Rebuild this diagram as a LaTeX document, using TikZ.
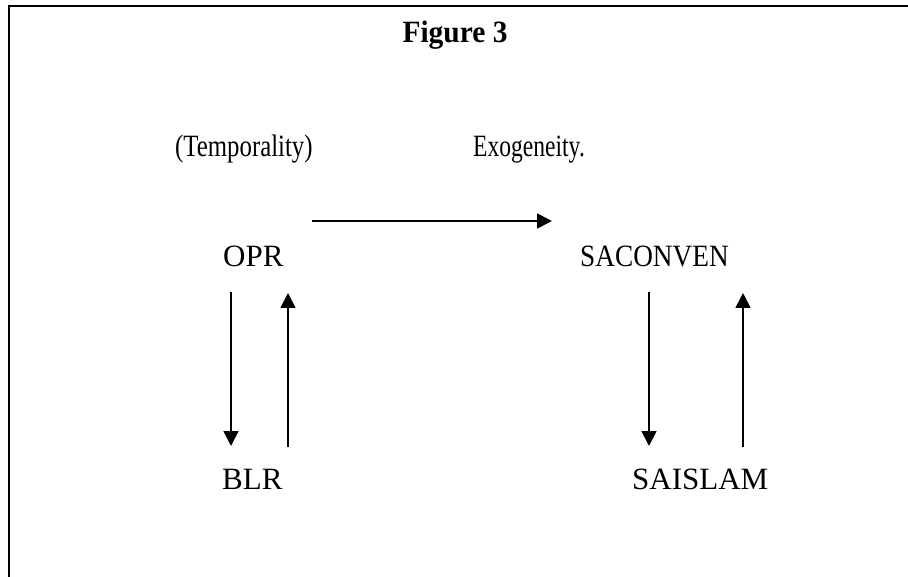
\documentclass[tikz,border=0pt]{standalone}
\usepackage{fontspec}
\setmainfont{Liberation Serif}
\usetikzlibrary{arrows.meta}
\begin{document}
\begin{tikzpicture}[x=1pt,y=-1pt,
  lbl/.style={anchor=base west,inner sep=0pt,font=\fontsize{31}{36}\selectfont},
  arr/.style={line width=1.8pt,-{Triangle[length=15pt,width=15pt]}}]
\useasboundingbox (0,0) rectangle (908,577);
\draw[line width=2pt] (908,6) -- (9,6) -- (9,577);
\node[anchor=base,inner sep=0pt,font=\fontsize{31}{36}\selectfont\bfseries] (title) at (455,43) {\scalebox{0.95}[1]{Figure 3}};
\node[lbl] (temp) at (175,157) {\scalebox{0.8}[1]{(Temporality)}};
\node[lbl] (exo) at (473,157) {\scalebox{0.76}[1]{Exogeneity.}};
\node[lbl] (opr) at (223,267) {OPR};
\node[lbl] (sac) at (580,267) {\scalebox{0.88}[1]{SACONVEN}};
\node[lbl] (blr) at (222,489) {BLR};
\node[lbl] (sai) at (632,489) {SAISLAM};
\coordinate (h1) at (312,221); \coordinate (h2) at (552,221);
\coordinate (a1) at (231,292); \coordinate (a2) at (231,446);
\coordinate (b1) at (288,447); \coordinate (b2) at (288,293);
\coordinate (c1) at (649,292); \coordinate (c2) at (649,446);
\coordinate (d1) at (743,447); \coordinate (d2) at (743,293);
\draw[arr] (h1) -- (h2);
\draw[arr] (a1) -- (a2);
\draw[arr] (b1) -- (b2);
\draw[arr] (c1) -- (c2);
\draw[arr] (d1) -- (d2);
\end{tikzpicture}
\end{document}
